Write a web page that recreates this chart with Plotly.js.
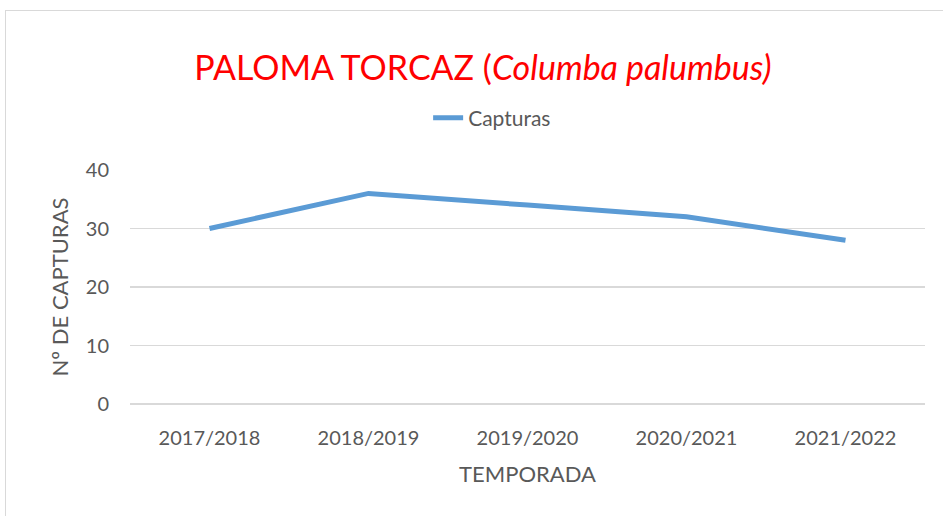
<!DOCTYPE html>
<html>
<head>
<meta charset="utf-8">
<script src="https://cdn.plot.ly/plotly-3.0.1.min.js"></script>
<style>
  html, body { margin: 0; padding: 0; background: #fff; }
  #frame { position: absolute; left: 5px; top: 10px; width: 950px; height: 520px; border: 1.5px solid #d9d9d9; box-sizing: border-box; }
  #chart { position: absolute; left: 0; top: 0; width: 943px; height: 516px; }
</style>
</head>
<body>
<div id="frame"></div>
<div id="chart"></div>
<script>
const seasons = ["2017/2018", "2018/2019", "2019/2020", "2020/2021", "2021/2022"];
const capturas = [30, 36, 34, 32, 28];
const yTicks = [0, 10, 20, 30, 40];

const trace = {
  x: seasons,
  y: capturas,
  type: "scatter",
  mode: "lines",
  name: "Capturas",
  line: { color: "#5B9BD5", width: 5 }
};

const font = "Lato, 'Open Sans', sans-serif";
const layout = {
  width: 943,
  height: 516,
  paper_bgcolor: "rgba(0,0,0,0)",
  plot_bgcolor: "rgba(0,0,0,0)",
  margin: { l: 130, r: 18, t: 170, b: 112 },
  font: { family: font, color: "#595959", size: 20 },
  title: {
    text: "PALOMA TORCAZ (<i>Columba palumbus)</i>",
    font: { family: font, color: "#ff0000", size: 34 },
    x: 0.512, xanchor: "center",
    y: 1 - 68 / 516, yref: "container", yanchor: "middle"
  },
  showlegend: true,
  legend: {
    orientation: "h",
    x: 0.375, xanchor: "left",
    y: 1.222, yanchor: "middle",
    font: { family: font, size: 21, color: "#595959" }
  },
  xaxis: {
    type: "category",
    range: [-0.5, 4.5],
    showgrid: false,
    zeroline: false,
    showline: false,
    ticks: "",
    ticklabelstandoff: 20,
    tickfont: { size: 20 },
    title: { text: "TEMPORADA", font: { size: 22 }, standoff: 18 }
  },
  yaxis: {
    range: [0, 40],
    tickvals: yTicks,
    showgrid: true,
    gridcolor: "#d9d9d9",
    gridwidth: 1.5,
    zeroline: true,
    zerolinecolor: "#d9d9d9",
    zerolinewidth: 1.5,
    showline: false,
    ticks: "",
    ticklabelstandoff: 20,
    tickfont: { size: 20 },
    title: { text: "Nº DE CAPTURAS", font: { size: 22 }, standoff: 11 }
  }
};

Plotly.newPlot("chart", [trace], layout, { displayModeBar: false, staticPlot: true });
</script>
</body>
</html>
